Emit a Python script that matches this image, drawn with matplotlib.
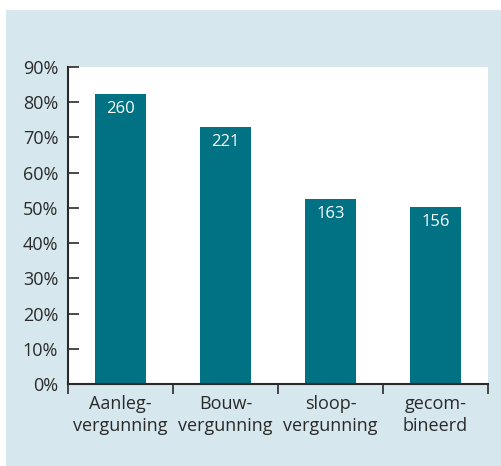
import matplotlib
matplotlib.use("Agg")
import matplotlib.pyplot as plt
from matplotlib.patches import Rectangle
from matplotlib.ticker import FuncFormatter

# Data
categories = ["Aanleg-\nvergunning", "Bouw-\nvergunning", "sloop-\nvergunning", "gecom-\nbineerd"]
percentages = [82.3, 73.1, 52.6, 50.3]
counts = ["260", "221", "163", "156"]

plt.rcParams["font.family"] = ["Open Sans", "DejaVu Sans"]

bg = "#d6e7ee"
bar_color = "#007283"
text_color = "#2a2a2a"

fig = plt.figure(figsize=(5.01, 4.66), dpi=100, facecolor="white")
# light blue panel behind everything, small white strip on left and top
fig.patches.append(Rectangle((6 / 501, 0), 1, 456 / 466, transform=fig.transFigure,
                             facecolor=bg, edgecolor="none", zorder=-1))

ax = fig.add_axes([68 / 501, 82 / 466, 420 / 501, 317 / 466])
ax.set_facecolor("white")

x = list(range(len(categories)))
bars = ax.bar(x, percentages, width=0.49, color=bar_color, zorder=2)

for b, c in zip(bars, counts):
    ax.annotate(c, (b.get_x() + b.get_width() / 2, b.get_height()),
                xytext=(0, -11), textcoords="offset points", ha="center", va="center",
                color="white", fontsize=12)

ax.set_xlim(-0.5, 3.5)
ax.set_ylim(0, 90)
ax.set_yticks(range(0, 91, 10))
ax.yaxis.set_major_formatter(FuncFormatter(lambda v, p: f"{v:.0f}%"))

ax.set_xticks(x)
ax.set_xticklabels(categories, fontsize=13, color=text_color, linespacing=1.25)
ax.set_xticks([-0.5, 0.5, 1.5, 2.5, 3.5], minor=True)
ax.tick_params(axis="x", which="major", length=0, pad=8)
ax.tick_params(axis="x", which="minor", length=7, width=1.2, direction="out", color=text_color)
ax.tick_params(axis="y", length=8, width=1.2, direction="in", pad=7,
               labelsize=13, labelcolor=text_color, color=text_color)

for s in ["top", "right"]:
    ax.spines[s].set_visible(False)
for s in ["left", "bottom"]:
    ax.spines[s].set_linewidth(1.5)
    ax.spines[s].set_color(text_color)

fig.savefig("out.png", dpi=100, facecolor=fig.get_facecolor())
